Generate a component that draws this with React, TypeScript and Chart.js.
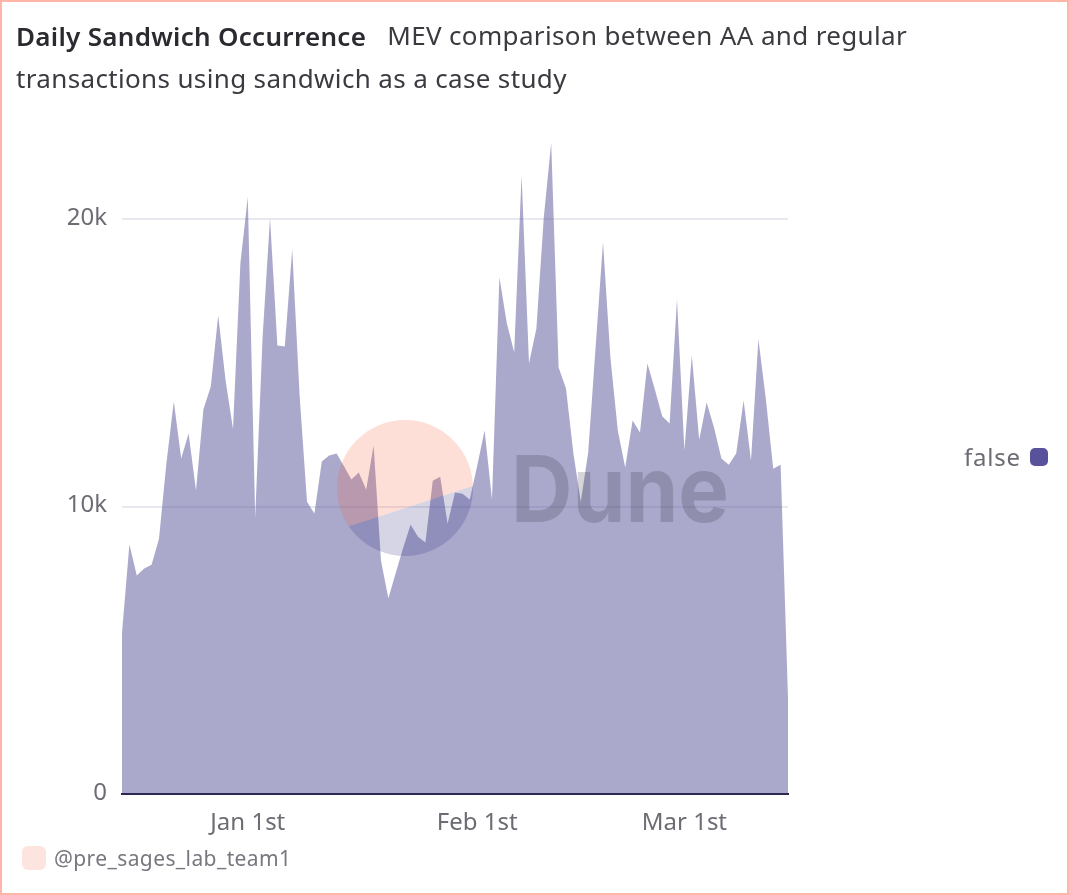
import React, { useRef, useEffect } from 'react';
import Chart from 'chart.js/auto';

const FONT = '"Noto Sans", sans-serif';

const titleBold = 'Daily Sandwich Occurrence';
const titleRest = 'MEV comparison between AA and regular transactions using sandwich as a case study';
const credit = '@pre_sages_lab_team1';
const seriesName = 'false';

// one label per day, 15 Dec to 15 Mar
const decDays = ['Dec 15th', 'Dec 16th', 'Dec 17th', 'Dec 18th', 'Dec 19th', 'Dec 20th', 'Dec 21st', 'Dec 22nd', 'Dec 23rd', 'Dec 24th', 'Dec 25th', 'Dec 26th', 'Dec 27th', 'Dec 28th', 'Dec 29th', 'Dec 30th', 'Dec 31st'];
const janDays = ['Jan 1st', 'Jan 2nd', 'Jan 3rd', 'Jan 4th', 'Jan 5th', 'Jan 6th', 'Jan 7th', 'Jan 8th', 'Jan 9th', 'Jan 10th', 'Jan 11th', 'Jan 12th', 'Jan 13th', 'Jan 14th', 'Jan 15th', 'Jan 16th', 'Jan 17th', 'Jan 18th', 'Jan 19th', 'Jan 20th', 'Jan 21st', 'Jan 22nd', 'Jan 23rd', 'Jan 24th', 'Jan 25th', 'Jan 26th', 'Jan 27th', 'Jan 28th', 'Jan 29th', 'Jan 30th', 'Jan 31st'];
const febDays = ['Feb 1st', 'Feb 2nd', 'Feb 3rd', 'Feb 4th', 'Feb 5th', 'Feb 6th', 'Feb 7th', 'Feb 8th', 'Feb 9th', 'Feb 10th', 'Feb 11th', 'Feb 12th', 'Feb 13th', 'Feb 14th', 'Feb 15th', 'Feb 16th', 'Feb 17th', 'Feb 18th', 'Feb 19th', 'Feb 20th', 'Feb 21st', 'Feb 22nd', 'Feb 23rd', 'Feb 24th', 'Feb 25th', 'Feb 26th', 'Feb 27th', 'Feb 28th'];
const marDays = ['Mar 1st', 'Mar 2nd', 'Mar 3rd', 'Mar 4th', 'Mar 5th', 'Mar 6th', 'Mar 7th', 'Mar 8th', 'Mar 9th', 'Mar 10th', 'Mar 11th', 'Mar 12th', 'Mar 13th', 'Mar 14th', 'Mar 15th'];
const days = [...decDays, ...janDays, ...febDays, ...marDays];

const shownDays = ['Jan 1st', 'Feb 1st', 'Mar 1st'];

const sandwiches = [
  5600, 8680, 7600, 7850, 7980, 8880, 11500, 13660, 11670, 12540,
  10560, 13380, 14180, 16650, 14390, 12700, 18470, 20770, 9620, 15890,
  20030, 15610, 15570, 18950, 13870, 10170, 9760, 11570, 11780, 11850,
  11400, 10940, 11190, 10590, 12130, 8120, 6800, 7700, 8570, 9370,
  8950, 8750, 10900, 11040, 9400, 10490, 10450, 10250, 11420, 12650,
  10250, 17980, 16380, 15370, 21530, 14980, 16200, 20070, 22650, 14840,
  14110, 11850, 10170, 11880, 15540, 19200, 15190, 12650, 11360, 13000,
  12580, 14980, 14080, 13140, 12890, 17210, 11950, 15260, 12330, 13620,
  12750, 11670, 11460, 11850, 13690, 11600, 15820, 13760, 11320, 11460,
  3340,
];

const App: React.FC = () => {
  const chartRef = useRef<HTMLCanvasElement | null>(null);
  const chartInstance = useRef<Chart | null>(null);

  useEffect(() => {
    document.body.style.margin = '0';
    if (!chartRef.current) return;
    const ctx = chartRef.current.getContext('2d');
    if (!ctx) return;

    chartInstance.current = new Chart(ctx, {
      type: 'line',
      data: {
        labels: days,
        datasets: [
          {
            label: seriesName,
            data: sandwiches,
            fill: 'origin',
            backgroundColor: 'rgba(86, 82, 152, 0.5)',
            borderWidth: 0,
            pointRadius: 0,
            tension: 0,
          },
        ],
      },
      options: {
        responsive: false,
        animation: false,
        devicePixelRatio: 1,
        layout: { padding: { top: 133, right: 281, left: 0, bottom: 0 } },
        plugins: {
          legend: { display: false },
          title: { display: false },
          tooltip: { enabled: false },
        },
        scales: {
          x: {
            afterFit: (scale: any) => {
              scale.height = 101;
            },
            grid: { display: false },
            border: { display: true, color: '#2b2950', width: 2, z: 1 },
            ticks: {
              autoSkip: false,
              maxRotation: 0,
              padding: 7,
              color: '#6c6c74',
              font: { family: FONT, size: 24 },
              callback: (_v: any, i: number) => (shownDays.includes(days[i]) ? days[i] : null),
            },
          },
          y: {
            min: 0,
            max: 23000,
            afterFit: (scale: any) => {
              scale.width = 122;
            },
            afterBuildTicks: (scale: any) => {
              scale.ticks = [{ value: 0 }, { value: 10000 }, { value: 20000 }];
            },
            grid: {
              drawTicks: false,
              lineWidth: 2,
              color: (c: any) => (c.tick.value === 0 ? 'transparent' : '#e8e8f0'),
            },
            border: { display: false },
            ticks: {
              padding: 15,
              labelOffset: -1,
              color: '#6c6c74',
              font: { family: FONT, size: 24 },
              callback: (v: any) => (v === 0 ? '0' : `${Number(v) / 1000}k`),
            },
          },
        },
      },
    });

    return () => {
      if (chartInstance.current) {
        chartInstance.current.destroy();
      }
    };
  }, []);

  return (
    <div style={{ position: 'relative', width: 1069, height: 895, overflow: 'hidden', fontFamily: FONT, background: '#fff' }}>
      <canvas ref={chartRef} width={1069} height={895} style={{ position: 'absolute', left: 0, top: 0 }} />

      {/* Dune watermark sits over the chart */}
      <svg width={1069} height={895} style={{ position: 'absolute', left: 0, top: 0, pointerEvents: 'none' }}>
        <defs>
          <clipPath id="wm">
            <circle cx={405} cy={488} r={68} />
          </clipPath>
        </defs>
        <g clipPath="url(#wm)">
          <polygon points="330,420 480,420 480,484 473,486 350,526 330,532" fill="rgba(244, 96, 62, 0.2)" />
          <polygon points="330,532 350,526 473,486 480,484 480,560 330,560" fill="rgba(34, 34, 118, 0.19)" />
        </g>
        <text x={511} y={522} fontFamily="Inter" fontWeight={700} fontSize={92} fill="rgba(30, 30, 40, 0.18)" textLength={218} lengthAdjust="spacingAndGlyphs">
          Dune
        </text>
      </svg>

      <div style={{ position: 'absolute', left: 16, top: 15, width: 960, fontSize: 26, lineHeight: '43px', letterSpacing: 0.29, color: '#2a2a30' }}>
        <span style={{ fontWeight: 600 }}>{titleBold}</span>
        <span style={{ marginLeft: 21, letterSpacing: 0.35, color: '#3a3a40', position: 'relative', top: -1 }}>{titleRest}</span>
      </div>

      <div style={{ position: 'absolute', left: 964, top: 442, fontSize: 24, lineHeight: '30px', letterSpacing: 0.8, color: '#6c6c74' }}>{seriesName}</div>
      <div style={{ position: 'absolute', left: 1030, top: 448, width: 18, height: 18, borderRadius: 5, background: '#58529b' }} />

      <div style={{ position: 'absolute', left: 22, top: 846, width: 24, height: 24, borderRadius: 6, background: '#fde4df' }} />
      <div style={{ position: 'absolute', left: 54, top: 844, fontSize: 21, lineHeight: '28px', letterSpacing: 0.4, color: '#77777f' }}>{credit}</div>

      <div style={{ position: 'absolute', left: 0, top: 0, width: 1069, height: 895, boxSizing: 'border-box', border: '2px solid #ffb5a7', pointerEvents: 'none' }} />
    </div>
  );
};

export default App;
